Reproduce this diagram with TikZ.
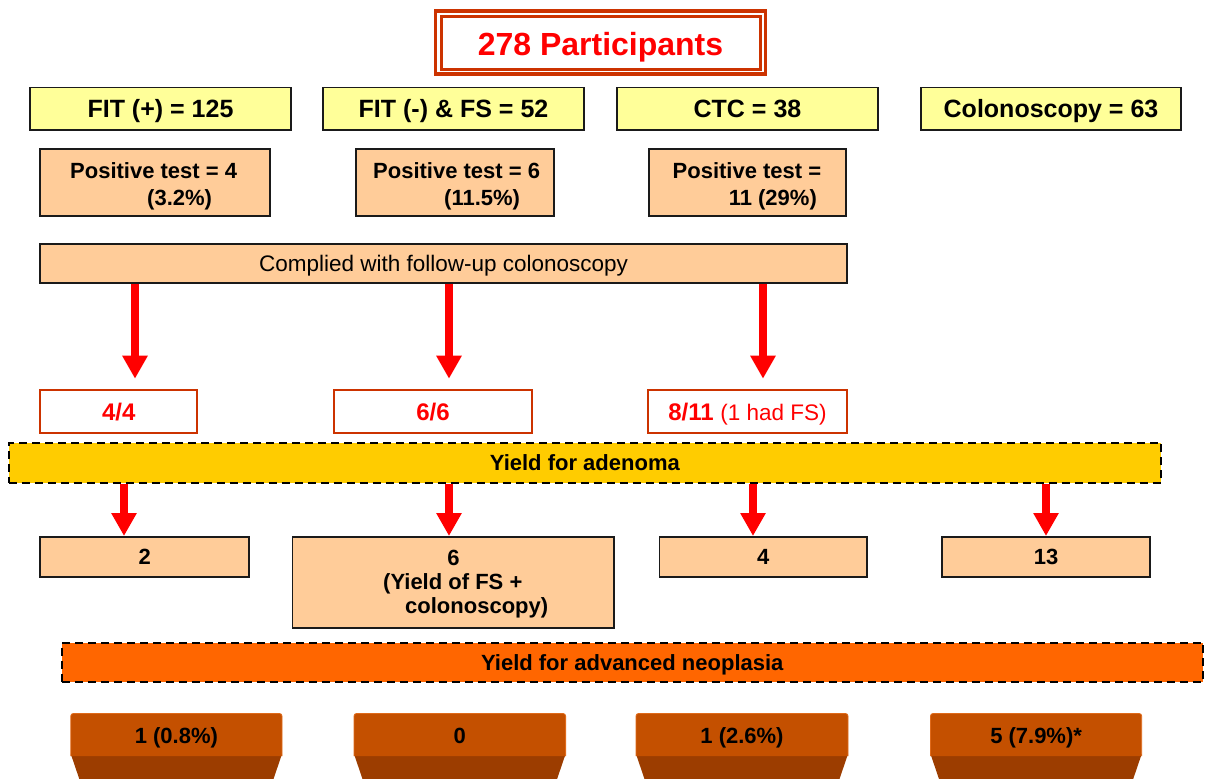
\documentclass[tikz,border=0pt]{standalone}
\usepackage{fontspec}
\setmainfont{Liberation Sans}
\usetikzlibrary{arrows.meta}
\definecolor{ttl}{HTML}{CC3300}
\definecolor{yel}{HTML}{FFFF99}
\definecolor{peach}{HTML}{FFCC99}
\definecolor{aden}{HTML}{FFCC00}
\definecolor{neo}{HTML}{FF6600}
\definecolor{btop}{HTML}{C45000}
\definecolor{blow}{HTML}{9C3D00}
\definecolor{bedge}{HTML}{E06A1A}
\definecolor{brd}{HTML}{1A1A1A}
\tikzset{
  ybox/.style={draw=brd, line width=1.7pt, fill=yel, inner sep=0pt,
    font=\fontsize{25}{30}\selectfont\bfseries, text height=18pt, text depth=0pt},
  pbox/.style={draw=brd, line width=1.7pt, fill=peach, inner sep=0pt},
  rbox/.style={draw=ttl, line width=1.6pt, fill=white, inner sep=0pt, text=red,
    font=\fontsize{24}{28}\selectfont\bfseries, text height=17.2pt, text depth=0pt},
  dbar/.style={draw=black, line width=2pt, dash pattern=on 8pt off 5pt, inner sep=0pt,
    font=\fontsize{22}{26}\selectfont\bfseries, text height=15.8pt, text depth=0pt},
  bigarrow/.style={draw=red, line width=7.5pt, -{Triangle[width=24pt,length=23pt]}},
  bt/.style={inner sep=0pt, font=\fontsize{22}{26}\selectfont\bfseries, text height=15.8pt, text depth=0pt},
}
\begin{document}
\begin{tikzpicture}[x=1pt,y=-1pt]
\useasboundingbox (0,0) rectangle (1211,779);
% title
\draw[ttl, line width=3.3pt] (435.7,11) rectangle (765.3,74);
\draw[ttl, line width=2.5pt] (441.3,16.3) rectangle (760.5,69.5);
\node[anchor=base, text=red, inner sep=0pt, font=\fontsize{32}{38}\selectfont\bfseries] (title) at (600.5,55) {278 Participants};
% groups
\node[ybox, minimum width=261.3pt, minimum height=42.8pt] (fitp) at (160.5,108.75) {FIT (+) = 125};
\node[ybox, minimum width=261.3pt, minimum height=42.8pt] (fitn) at (453.5,108.75) {FIT (-) \& FS = 52};
\node[ybox, minimum width=261.3pt, minimum height=42.8pt] (ctc) at (747.5,108.75) {CTC = 38};
\node[ybox, minimum width=260.3pt, minimum height=42.8pt] (colo) at (1051,108.75) {Colonoscopy = 63};
% positive tests
\node[pbox, minimum width=230.3pt, minimum height=67.3pt] (pos1) at (155,182.5) {};
\node[bt, anchor=base west] (pos1a) at (70,178) {Positive test = 4};
\node[bt, anchor=base west] (pos1b) at (147,205) {(3.2\%)};
\node[pbox, minimum width=198.3pt, minimum height=67.3pt] (pos2) at (455,182.5) {};
\node[bt, anchor=base west] (pos2a) at (373,178) {Positive test = 6};
\node[bt, anchor=base west] (pos2b) at (444,205) {(11.5\%)};
\node[pbox, minimum width=197.3pt, minimum height=67.3pt] (pos3) at (747.5,182.5) {};
\node[bt, anchor=base west] (pos3a) at (672.5,178) {Positive test =};
\node[bt, anchor=base west] (pos3b) at (728.6,205) {11 (29\%)};
% complied
\node[pbox, minimum width=806.6pt, minimum height=39.3pt, font=\fontsize{22.5}{27}\selectfont, text height=16pt, text depth=0pt] (comp) at (443.5,263.5) {Complied with follow-up colonoscopy};
% follow-up boxes
\node[rbox, minimum width=157pt, minimum height=43pt] (f1) at (118.7,411.5) {4/4};
\node[rbox, minimum width=198.5pt, minimum height=43pt] (f2) at (433,411.5) {6/6};
\node[rbox, minimum width=198.5pt, minimum height=43pt] (f3) at (747.5,411.5) {8/11 {\mdseries\fontsize{22.5}{27}\selectfont (1 had FS)}};
\coordinate (x1) at (135,0);
\coordinate (x2) at (449,0);
\coordinate (x3) at (763,0);
\draw[bigarrow, shorten >=10.5pt] (comp.south -| x1) -- (f1.north -| x1);
\draw[bigarrow, shorten >=10.5pt] (comp.south -| x2) -- (f2.north -| x2);
\draw[bigarrow, shorten >=10.5pt] (comp.south -| x3) -- (f3.north -| x3);
% adenoma
\node[dbar, fill=aden, minimum width=1152.3pt, minimum height=40.3pt] (aden) at (584.85,462.85) {Yield for adenoma};
\node[pbox, bt, minimum width=208.9pt, minimum height=40.3pt] (y1) at (144.7,557) {2};
\node[pbox, minimum width=321.7pt, minimum height=91.3pt] (y2) at (453.3,582.5) {};
\node[bt, anchor=base] (y2a) at (453.5,565) {6};
\node[bt, anchor=base west] (y2b) at (383,589) {(Yield of FS +};
\node[bt, anchor=base west] (y2c) at (405,613) {colonoscopy)};
\node[pbox, bt, minimum width=207.8pt, minimum height=40.3pt] (y3) at (763.25,557) {4};
\node[pbox, bt, minimum width=208.3pt, minimum height=40.3pt] (y4) at (1046,557) {13};
\coordinate (z1) at (124,0);
\coordinate (z2) at (449,0);
\coordinate (z3) at (753,0);
\coordinate (z4) at (1046,0);
\draw[bigarrow] (aden.south -| z1) -- (y1.north -| z1);
\draw[bigarrow] (aden.south -| z2) -- (y2.north -| z2);
\draw[bigarrow] (aden.south -| z3) -- (y3.north -| z3);
\draw[bigarrow] (aden.south -| z4) -- (y4.north -| z4);
% advanced neoplasia
\node[dbar, fill=neo, minimum width=1141.5pt, minimum height=39pt] (neo) at (632.25,662.2) {Yield for advanced neoplasia};
\foreach \a/\b/\n/\t in {70.8/282/bb1/{1 (0.8\%)}, 354/565.6/bb2/{0}, 636/848/bb3/{1 (2.6\%)}, 930.5/1141.7/bb4/{5 (7.9\%)*}}{
  \fill[blow] (\a,754) -- (\b,754) -- (\b-8.5,779) -- (\a+8.5,779) -- cycle;
  \filldraw[fill=btop, draw=bedge, line width=0.8pt] (\a,756) [rounded corners=2.5pt] -- (\a,713.5) -- (\b,713.5) [sharp corners] -- (\b,756);
  \node[bt] (\n) at ({(\a+\b)/2},735.5) {\t};
}
\end{tikzpicture}
\end{document}
